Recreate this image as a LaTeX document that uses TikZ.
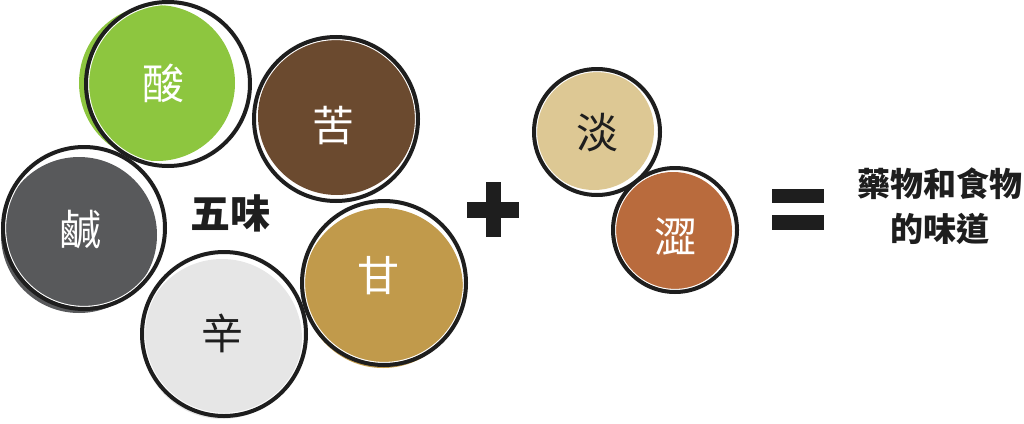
\documentclass[tikz,border=0pt]{standalone}
\usepackage{fontspec}
\newfontfamily\cjk{Noto Sans CJK TC}
\usepackage{xcolor}
\definecolor{sour}{HTML}{8DC63F}
\definecolor{bitter}{HTML}{6B4A2F}
\definecolor{salty}{HTML}{58595B}
\definecolor{pungent}{HTML}{E6E6E6}
\definecolor{sweet}{HTML}{C19A4B}
\definecolor{bland}{HTML}{DDC894}
\definecolor{astringent}{HTML}{B96B3D}
\definecolor{ink}{HTML}{1E1E1E}
\usetikzlibrary{positioning}

\begin{document}
\begin{tikzpicture}[x=1pt, y=-1pt, every node/.style={font=\cjk}]
\tikzstyle{disc}=[circle, inner sep=0pt, draw=none]
\tikzstyle{ring}=[draw=ink, line width=4pt]
\tikzstyle{gap}=[draw=white, line width=1.2pt]
\tikzstyle{taste}=[inner sep=0pt, font=\cjk\fontsize{42}{46}\selectfont]
\tikzstyle{bigword}=[inner sep=0pt, align=center, text=ink,
  font=\cjk\bfseries\fontsize{33}{45}\selectfont]
\useasboundingbox (0,0) rectangle (1024,423);

% five tastes
\node[disc, fill=salty, minimum size=156pt] (salty) at (79,235) {};
\draw[gap] (84,228) circle[radius=78.5pt];
\draw[ring] (84,228) circle[radius=81pt];
\node[taste, text=white] (saltytxt) at (80,229) {鹹};

\node[disc, fill=sour, minimum size=156pt] (sour) at (157,83) {};
\draw[gap] (168,84) circle[radius=79.5pt];
\draw[ring] (168,84) circle[radius=82pt];
\node[taste, text=white] (sourtxt) at (163,83) {酸};

\node[disc, fill=bitter, minimum size=158pt] (bitter) at (337,116) {};
\draw[gap] (336,119) circle[radius=79.5pt];
\draw[ring] (336,119) circle[radius=82pt];
\node[taste, text=white] (bittertxt) at (333,126) {苦};

\node[disc, fill=pungent, minimum size=160pt] (pungent) at (222,339) {};
\draw[gap] (224,334) circle[radius=79.5pt];
\draw[ring] (224,334) circle[radius=82pt];
\node[taste, text=ink] (pungenttxt) at (222,333) {辛};

\node[disc, fill=sweet, minimum size=160pt] (sweet) at (383,288) {};
\draw[gap] (384,283) circle[radius=79.5pt];
\draw[ring] (384,283) circle[radius=82pt];
\node[taste, text=white] (sweettxt) at (378,276) {甘};

\node[bigword, font=\cjk\bfseries\fontsize{40}{44}\selectfont] (five) at (230,213) {五味};

% plus
\fill[ink] (467,202) rectangle (519,218);
\fill[ink] (486,182) rectangle (501,237);

% two extra tastes
\node[disc, fill=bland, minimum size=120pt] (bland) at (594,130) {};
\draw[gap] (597,132) circle[radius=60.5pt];
\draw[ring] (597,132) circle[radius=63pt];
\node[taste, text=ink] (blandtxt) at (597,133) {淡};

\node[disc, fill=astringent, minimum size=118pt] (astringent) at (673,231) {};
\draw[gap] (675,230) circle[radius=59.5pt];
\draw[ring] (675,230) circle[radius=62pt];
\node[taste, text=white] (astringenttxt) at (675,237) {澀};

% equals
\fill[ink] (772,189) rectangle (824,203);
\fill[ink] (772,215) rectangle (824,230);

\node[bigword] (result) at (940,206) {藥物和食物\\的味道};
\end{tikzpicture}
\end{document}
